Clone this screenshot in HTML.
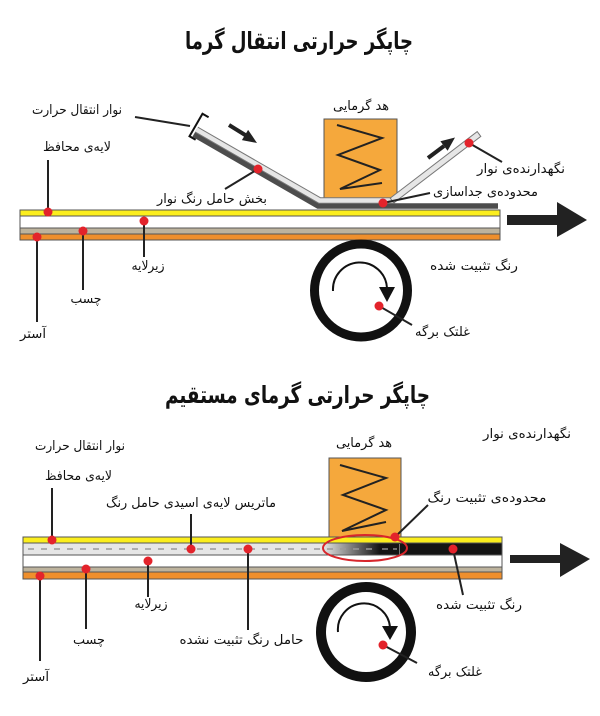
<!DOCTYPE html>
<html><head><meta charset="utf-8"><style>
html,body{margin:0;padding:0;background:#fff;}
svg{display:block;}
text{font-family:"DejaVu Sans","Liberation Sans",sans-serif;fill:#111;}
.l{font-size:13px;}
.t{font-size:24px;font-weight:bold;}
</style></head><body>
<svg width="600" height="716" viewBox="0 0 600 716" xmlns="http://www.w3.org/2000/svg">
<defs>
<linearGradient id="g1" gradientUnits="userSpaceOnUse" x1="323" y1="0" x2="380" y2="0">
<stop offset="0" stop-color="#e6e6e6"/><stop offset="1" stop-color="#141414"/>
</linearGradient>
</defs>

<!-- ===== TOP DIAGRAM ===== -->
<text class="t" x="299" y="49" text-anchor="middle" textLength="228" lengthAdjust="spacingAndGlyphs">چاپگر حرارتی انتقال گرما</text>

<!-- strip -->
<rect x="20" y="210" width="480" height="6" fill="#fbee1d" stroke="#555" stroke-width="1"/>
<rect x="20" y="216" width="480" height="12" fill="#ffffff" stroke="#555" stroke-width="1"/>
<rect x="20" y="228" width="480" height="6" fill="#bdb39d" stroke="#555" stroke-width="1"/>
<rect x="20" y="234" width="480" height="6" fill="#ef8f2c" stroke="#555" stroke-width="1"/>

<!-- heat head -->
<rect x="324" y="119" width="73" height="80" fill="#f5a83c" stroke="#555" stroke-width="1"/>
<polyline points="337,125 382,138 338,155 380,170 340,189 382,183" fill="none" stroke="#222" stroke-width="2"/>

<!-- tape -->
<polyline points="193.8,134.4 318.1,206 498,206" fill="none" stroke="#4d4d4d" stroke-width="5.5" stroke-linejoin="miter"/>
<polyline points="196.5,129.6 319.6,200.5 395,200.5" fill="none" stroke="#777" stroke-width="6.5"/>
<polyline points="196.5,129.6 319.6,200.5 395,200.5" fill="none" stroke="#e6e6e6" stroke-width="4.5"/>
<polygon points="390.2,198.1 477.2,131.6 480.8,136.4 393.8,202.9" fill="#e6e6e6" stroke="#777" stroke-width="1"/>

<!-- bracket -->
<polyline points="208.6,117.2 202.5,113.7 189.5,136.3 195.6,139.8" fill="none" stroke="#111" stroke-width="2"/>
<line x1="135" y1="117" x2="190" y2="126" stroke="#222" stroke-width="2"/>

<!-- tape arrows -->
<line x1="229" y1="125" x2="246" y2="135.5" stroke="#222" stroke-width="4"/>
<polygon points="257,143 241.9,140.1 248.1,129.9" fill="#222"/>
<line x1="428" y1="158" x2="444" y2="146" stroke="#222" stroke-width="4"/>
<polygon points="455,137.5 447.6,150.8 440.4,141.2" fill="#222"/>

<!-- big arrow -->
<rect x="507" y="215" width="51" height="10" fill="#222"/>
<polygon points="557,202 587,220 557,237" fill="#222"/>

<!-- roller -->
<circle cx="361" cy="290.5" r="46.5" fill="none" stroke="#111" stroke-width="9"/>
<path d="M333,291 A27,27 0 0 1 387,288" fill="none" stroke="#111" stroke-width="2"/>
<polygon points="379,287 395,287 387,302" fill="#111"/>

<!-- leaders top -->
<g stroke="#222" stroke-width="2">
<line x1="48" y1="160" x2="48" y2="212"/>
<line x1="144" y1="222" x2="144" y2="257"/>
<line x1="83" y1="231" x2="83" y2="290"/>
<line x1="37" y1="237" x2="37" y2="322"/>
<line x1="258" y1="169" x2="225" y2="189"/>
<line x1="469" y1="143" x2="502" y2="162"/>
<line x1="383" y1="203" x2="430" y2="193"/>
<line x1="379" y1="306" x2="412" y2="325"/>
</g>
<g fill="#e3232b">
<circle cx="48" cy="212" r="4.5"/>
<circle cx="144" cy="221" r="4.5"/>
<circle cx="83" cy="231" r="4.5"/>
<circle cx="37" cy="237" r="4.5"/>
<circle cx="258" cy="169" r="4.5"/>
<circle cx="469" cy="143" r="4.5"/>
<circle cx="383" cy="203" r="4.5"/>
<circle cx="379" cy="306" r="4.5"/>
</g>

<text class="l" x="77" y="114" text-anchor="middle" textLength="90" lengthAdjust="spacingAndGlyphs">نوار انتقال حرارت</text>
<text class="l" x="77" y="151" text-anchor="middle" textLength="68" lengthAdjust="spacingAndGlyphs">لایه&#8204;ی محافظ</text>
<text class="l" x="361" y="110" text-anchor="middle" textLength="56" lengthAdjust="spacingAndGlyphs">هد گرمایی</text>
<text class="l" x="521" y="173" text-anchor="middle" textLength="88" lengthAdjust="spacingAndGlyphs">نگهدارنده&#8204;ی نوار</text>
<text class="l" x="212" y="203" text-anchor="middle" textLength="110" lengthAdjust="spacingAndGlyphs">بخش حامل رنگ نوار</text>
<text class="l" x="485.5" y="196" text-anchor="middle" textLength="105" lengthAdjust="spacingAndGlyphs">محدوده&#8204;ی جداسازی</text>
<text class="l" x="474" y="270" text-anchor="middle" textLength="88" lengthAdjust="spacingAndGlyphs">رنگ تثبیت شده</text>
<text class="l" x="442.5" y="336" text-anchor="middle" textLength="55" lengthAdjust="spacingAndGlyphs">غلتک برگه</text>
<text class="l" x="148" y="270" text-anchor="middle" textLength="33" lengthAdjust="spacingAndGlyphs">زیرلایه</text>
<text class="l" x="86" y="303" text-anchor="middle" textLength="31" lengthAdjust="spacingAndGlyphs">چسب</text>
<text class="l" x="33" y="338" text-anchor="middle" textLength="26" lengthAdjust="spacingAndGlyphs">آستر</text>

<!-- ===== BOTTOM DIAGRAM ===== -->
<text class="t" x="297.5" y="403" text-anchor="middle" textLength="265" lengthAdjust="spacingAndGlyphs">چاپگر حرارتی گرمای مستقیم</text>

<!-- heat head -->
<rect x="329" y="458" width="72" height="79" fill="#f5a83c" stroke="#555" stroke-width="1"/>
<polyline points="340,465 386,478 343,495 386,510 342,531 386,522" fill="none" stroke="#222" stroke-width="2"/>

<!-- strip -->
<rect x="23" y="537" width="479" height="6" fill="#fbee1d" stroke="#555" stroke-width="1"/>
<rect x="23" y="543" width="479" height="12" fill="url(#g1)" stroke="#555" stroke-width="1"/>
<line x1="28" y1="549" x2="372" y2="549" stroke="#9a9a9a" stroke-width="1.5" stroke-dasharray="6 7"/>
<line x1="382" y1="549" x2="388" y2="549" stroke="#8a8a8a" stroke-width="1.5"/>
<line x1="393" y1="549" x2="397" y2="549" stroke="#8a8a8a" stroke-width="1.5"/>
<line x1="399.5" y1="544" x2="399.5" y2="555" stroke="#777" stroke-width="1"/>
<rect x="23" y="555" width="479" height="12" fill="#ffffff" stroke="#555" stroke-width="1"/>
<rect x="23" y="567" width="479" height="5" fill="#bdb39d" stroke="#555" stroke-width="1"/>
<rect x="23" y="572" width="479" height="7" fill="#ef8f2c" stroke="#555" stroke-width="1"/>

<ellipse cx="365" cy="548" rx="42" ry="13" fill="none" stroke="#d8262c" stroke-width="2"/>

<!-- big arrow -->
<rect x="510" y="555" width="51" height="8" fill="#222"/>
<polygon points="560,543 590,559 560,577" fill="#222"/>

<!-- roller -->
<circle cx="366" cy="632" r="45" fill="none" stroke="#111" stroke-width="10"/>
<path d="M338,632 A26,26 0 0 1 390,627" fill="none" stroke="#111" stroke-width="2"/>
<polygon points="382,626 398,626 390,640" fill="#111"/>

<!-- leaders bottom -->
<g stroke="#222" stroke-width="2">
<line x1="52" y1="488" x2="52" y2="540"/>
<line x1="191" y1="514" x2="191" y2="549"/>
<line x1="248" y1="549" x2="248" y2="630"/>
<line x1="148" y1="561" x2="148" y2="597"/>
<line x1="86" y1="569" x2="86" y2="629"/>
<line x1="40" y1="576" x2="40" y2="661"/>
<line x1="453" y1="549" x2="463" y2="595"/>
<line x1="395" y1="537" x2="428" y2="505"/>
<line x1="383" y1="645" x2="417" y2="663"/>
</g>
<g fill="#e3232b">
<circle cx="52" cy="540" r="4.5"/>
<circle cx="191" cy="549" r="4.5"/>
<circle cx="248" cy="549" r="4.5"/>
<circle cx="148" cy="561" r="4.5"/>
<circle cx="86" cy="569" r="4.5"/>
<circle cx="40" cy="576" r="4.5"/>
<circle cx="453" cy="549" r="4.5"/>
<circle cx="395" cy="537" r="4.5"/>
<circle cx="383" cy="645" r="4.5"/>
</g>

<text class="l" x="80" y="450" text-anchor="middle" textLength="90" lengthAdjust="spacingAndGlyphs">نوار انتقال حرارت</text>
<text class="l" x="78.5" y="480" text-anchor="middle" textLength="67" lengthAdjust="spacingAndGlyphs">لایه&#8204;ی محافظ</text>
<text class="l" x="191" y="507" text-anchor="middle" textLength="170" lengthAdjust="spacingAndGlyphs">ماتریس لایه&#8204;ی اسیدی حامل رنگ</text>
<text class="l" x="364" y="447" text-anchor="middle" textLength="56" lengthAdjust="spacingAndGlyphs">هد گرمایی</text>
<text class="l" x="527" y="438" text-anchor="middle" textLength="88" lengthAdjust="spacingAndGlyphs">نگهدارنده&#8204;ی نوار</text>
<text class="l" x="487" y="502" text-anchor="middle" textLength="119" lengthAdjust="spacingAndGlyphs">محدوده&#8204;ی تثبیت رنگ</text>
<text class="l" x="479" y="609" text-anchor="middle" textLength="86" lengthAdjust="spacingAndGlyphs">رنگ تثبیت شده</text>
<text class="l" x="455" y="676" text-anchor="middle" textLength="54" lengthAdjust="spacingAndGlyphs">غلتک برگه</text>
<text class="l" x="151" y="608" text-anchor="middle" textLength="33" lengthAdjust="spacingAndGlyphs">زیرلایه</text>
<text class="l" x="89" y="644" text-anchor="middle" textLength="32" lengthAdjust="spacingAndGlyphs">چسب</text>
<text class="l" x="241.5" y="644" text-anchor="middle" textLength="124" lengthAdjust="spacingAndGlyphs">حامل رنگ تثبیت نشده</text>
<text class="l" x="36" y="681" text-anchor="middle" textLength="26" lengthAdjust="spacingAndGlyphs">آستر</text>
</svg>
</body></html>
